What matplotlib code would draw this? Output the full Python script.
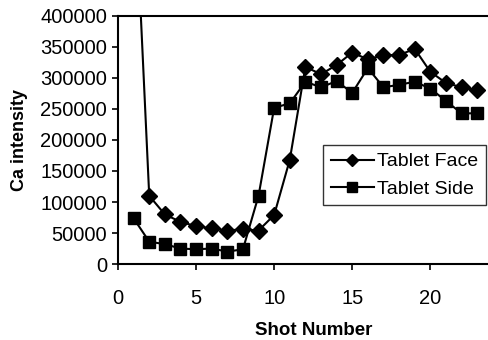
import matplotlib
matplotlib.use('Agg')
import matplotlib.pyplot as plt

plt.rcParams['font.family'] = ['Liberation Sans', 'DejaVu Sans']

shots = list(range(1, 24))
tablet_face = [650000, 110000, 80000, 68000, 61000, 57500, 54000, 56000, 54000, 79000,
               168000, 318000, 306000, 321000, 341000, 330000, 337000, 337000, 347000,
               310000, 292000, 285000, 280000]
tablet_side = [73700, 36000, 32000, 25000, 23700, 25000, 20000, 23700, 110000, 252000,
               259000, 294000, 285000, 295000, 276000, 316000, 285000, 289000, 294000,
               283000, 263000, 243000, 243000]
x_ticks = [0, 5, 10, 15, 20]

fig = plt.figure(figsize=(4.88, 3.40), dpi=100)
ax = fig.add_axes([0.2418, 0.2235, 0.80, 0.7295])

ax.plot(shots, tablet_face, color='black', lw=1.5, marker='D', markersize=8,
        label='Tablet Face')
ax.plot(shots, tablet_side, color='black', lw=1.5, marker='s', markersize=9,
        label='Tablet Side')

ax.set_xlim(0, 25)
ax.set_ylim(0, 400000)
ax.set_xticks(x_ticks)
ax.set_yticks(range(0, 400001, 50000))
ax.tick_params(direction='out', length=4, width=1.2, labelsize=14.5)
ax.tick_params(axis='x', pad=14)
ax.tick_params(axis='y', pad=4)
for s in ax.spines.values():
    s.set_linewidth(1.5)

ax.set_xlabel('Shot Number', fontsize=13.5, fontweight='bold', labelpad=10)
ax.set_ylabel('Ca intensity', fontsize=13, fontweight='bold', labelpad=9)

leg = ax.legend(loc='upper left', bbox_to_anchor=(0.525, 0.48), fontsize=14,
                frameon=True, fancybox=False, edgecolor='black', borderpad=0.4,
                handlelength=2.2, handletextpad=0.2, labelspacing=0.5,
                borderaxespad=0, markerscale=0.8)
leg.get_frame().set_linewidth(1.0)

fig.savefig('out.png', dpi=100)
